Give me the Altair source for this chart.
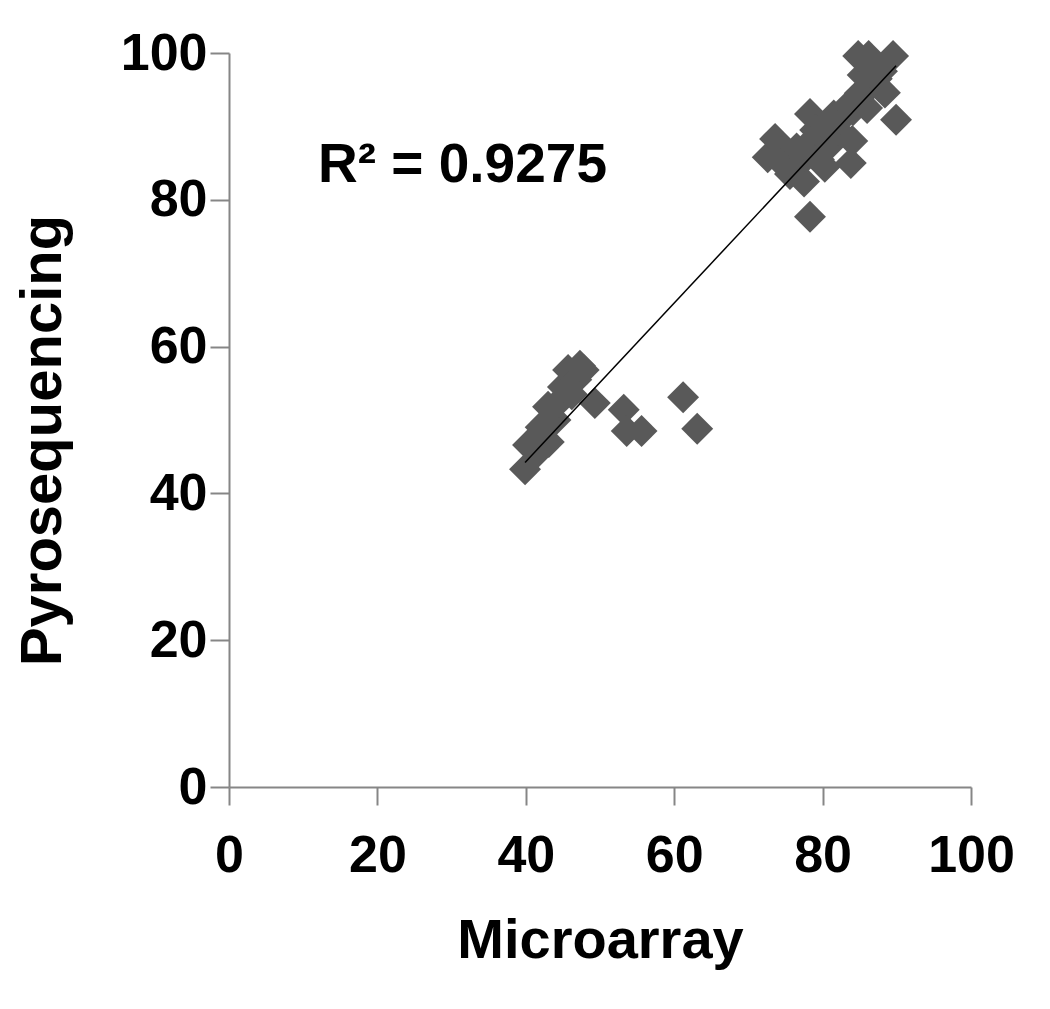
import altair as alt
import pandas as pd

# Microarray (x) and Pyrosequencing (y) values
micro = [39.9, 40.3, 41.5, 42.0, 43.0, 43.1, 44.0, 44.5, 45.0, 45.7,
         46.2, 46.8, 47.3, 47.8, 49.3, 53.2, 53.6, 55.6, 61.2, 63.1,
         72.6, 73.6, 74.5, 75.0, 75.6, 76.5, 77.0, 77.5, 77.5, 78.3,
         78.5, 79.0, 79.5, 80.3, 80.5, 81.0, 81.5, 82.0, 82.5, 83.4,
         83.8, 84.0, 84.1, 85.0, 85.4, 84.8, 86.2, 86.0, 86.5, 87.3,
         88.0, 88.4, 89.5, 89.9, 78.3]
pyro = [43.3, 46.6, 45.5, 49.0, 51.8, 47.0, 50.0, 52.5, 54.5, 56.8,
        53.5, 55.5, 57.4, 56.8, 52.3, 51.4, 48.5, 48.5, 53.1, 48.8,
        85.8, 88.3, 86.5, 84.5, 83.5, 87.0, 85.0, 82.5, 86.0, 91.7,
        88.0, 89.5, 85.5, 84.5, 90.0, 87.5, 91.5, 89.5, 91.0, 92.8,
        85.0, 88.0, 92.2, 94.5, 97.0, 99.6, 99.6, 92.5, 95.5, 96.5,
        97.5, 94.6, 99.6, 90.9, 77.7]

tick_values = [0, 20, 40, 60, 80, 100]
annot_text = ["R\u00b2 = 0.9275"]
annot_x = [12.0]
annot_y = [84.7]

df = pd.DataFrame({"Microarray": micro, "Pyrosequencing": pyro})
ann = pd.DataFrame({"x": annot_x, "y": annot_y, "t": annot_text})

AX = "#868686"
LABEL_FONT = "Liberation Sans"

xscale = alt.Scale(domain=[0, 100], nice=False, zero=False)
yscale = alt.Scale(domain=[0, 100], nice=False, zero=False)

xaxis = alt.Axis(values=tick_values, grid=False, domainColor=AX, domainWidth=2,
                 tickColor=AX, tickWidth=2, tickSize=18, labelPadding=25,
                 labelFont=LABEL_FONT, labelFontSize=52, labelFontWeight="bold",
                 labelColor="black", labelFlush=False,
                 title="Microarray", titleFont=LABEL_FONT, titleFontSize=56,
                 titleFontWeight="bold", titleColor="black", titleY=126)
yaxis = alt.Axis(values=tick_values, grid=False, domainColor=AX, domainWidth=2,
                 tickColor=AX, tickWidth=2, tickSize=19, labelPadding=3,
                 labelFont=LABEL_FONT, labelFontSize=52, labelFontWeight="bold",
                 labelColor="black", labelFlush=False,
                 title="Pyrosequencing", titleFont=LABEL_FONT, titleFontSize=58,
                 titleFontWeight="bold", titleColor="black",
                 titleX=-157, titleY=387)

points = alt.Chart(df).mark_point(
    shape="diamond", filled=True, size=1020, color="#595959", opacity=1
).encode(
    x=alt.X("Microarray:Q", scale=xscale, axis=xaxis),
    y=alt.Y("Pyrosequencing:Q", scale=yscale, axis=yaxis),
)

trend = alt.Chart(df).transform_regression(
    "Microarray", "Pyrosequencing"
).mark_line(color="black", strokeWidth=1.5).encode(
    x=alt.X("Microarray:Q", scale=xscale),
    y=alt.Y("Pyrosequencing:Q", scale=yscale),
)

label = alt.Chart(ann).mark_text(
    align="left", baseline="middle", font=LABEL_FONT, fontSize=55,
    fontWeight="bold", color="black"
).encode(
    x=alt.X("x:Q", scale=xscale),
    y=alt.Y("y:Q", scale=yscale),
    text="t:N",
)

chart = alt.layer(points, trend, label).properties(
    width=742, height=734,
    background="white",
    autosize=alt.AutoSizeParams(type="none"),
    padding={"left": 221, "top": 45, "right": 60, "bottom": 200},
).configure_view(stroke=None)

chart.save("out.html", embed_options={"renderer": "svg", "actions": False})
